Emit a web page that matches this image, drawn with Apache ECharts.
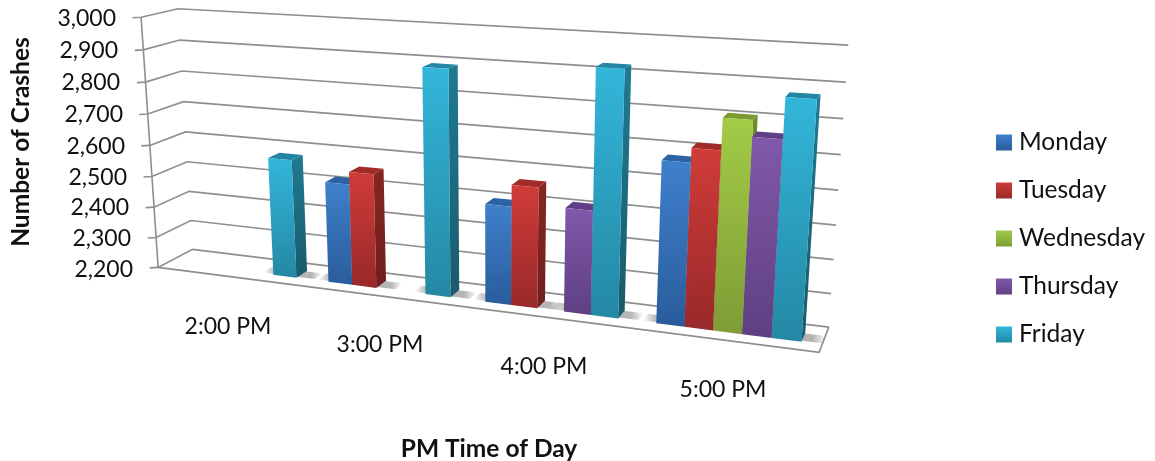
<!DOCTYPE html>
<html><head><meta charset="utf-8">
<style>html,body{margin:0;padding:0;background:#fff}#c{width:1155px;height:461px}</style>
<script src="https://cdn.jsdelivr.net/npm/echarts@6/dist/echarts.min.js"></script>
</head><body><div id="c"></div>
<script>
const categories = ['2:00 PM','3:00 PM','4:00 PM','5:00 PM'];
const seriesNames = ['Monday','Tuesday','Wednesday','Thursday','Friday'];
const monday    = [null, 2519, 2501, 2677];
const tuesday   = [null, 2558, 2566, 2718];
const wednesday = [null, null, null, 2808];
const thursday  = [null, null, 2513, 2762];
const friday    = [2578, 2892, 2924, 2876];
const seriesValues = [monday, tuesday, wednesday, thursday, friday];
const yTicks = [2200,2300,2400,2500,2600,2700,2800,2900,3000];

const GL=141,GT=17,GW=696,GH=250;
const fitPts=[[0,0,0,159,267],[1,0,0,820,353],[0,0,1,193,249],[1,0,1,829,327],[0,1,0,141,17],[0,1,1,178,9],[1,1,1,848,45],
[.775,0,.31,657,324,.3],[.975,0,.31,800,342,.3],[.185,0,.31,273,275,.3],[.225,0,.31,295,278,.3],[.315,0,.31,352,285,.3],[.355,0,.31,377,288,.3],
[0,.5,0,150,145],
[1,.875,1,846,82],[1,.75,1,843,119],[1,.625,1,841,155],[1,.25,1,833,259],[1,.125,1,832,293],
[0,.875,1,180,40],[0,.75,1,182,71],[0,.625,1,183,101.5],[0,.5,1,185,132],[0,.375,1,187,162],[0,.25,1,189,192],[0,.125,1,191,221],
[0,.875,0,143.5,50],[0,.75,0,145.5,82],[0,.625,0,147.5,114],[0,.375,0,152,177],[0,.25,0,154,207],[0,.125,0,156.5,237]];
function solve(A,b){const n=b.length;for(let i=0;i<n;i++){let m=i;for(let r=i+1;r<n;r++)if(Math.abs(A[r][i])>Math.abs(A[m][i]))m=r;[A[i],A[m]]=[A[m],A[i]];[b[i],b[m]]=[b[m],b[i]];
for(let r=i+1;r<n;r++){const f=A[r][i]/A[i][i];for(let c=i;c<n;c++)A[r][c]-=f*A[i][c];b[r]-=f*b[i];}}
const x=new Array(n);for(let i=n-1;i>=0;i--){let s=b[i];for(let c=i+1;c<n;c++)s-=A[i][c]*x[c];x[i]=s/A[i][i];}return x;}
let P=null;
for(let it=0;it<6;it++){const N=Array.from({length:11},()=>new Array(11).fill(0)),R=new Array(11).fill(0);
 const add=(row,t,k)=>{for(let i=0;i<11;i++){R[i]+=k*row[i]*t;for(let j=0;j<11;j++)N[i][j]+=k*row[i]*row[j];}};
 for(const [u,v,z,X,Y,wt] of fitPts){const x=X/1000,y=Y/1000;const w=P?P[8]*u+P[9]*v+P[10]*z+1:1,k=1/(w*w);
  const wy=wt===undefined?1:wt;
  add([u,v,z,1,0,0,0,0,-x*u,-x*v,-x*z],x,k);add([0,0,0,0,u,v,z,1,-y*u,-y*v,-y*z],y,k*wy);}
 P=solve(N,R);}
function proj(u,v,z){const w=P[8]*u+P[9]*v+P[10]*z+1;return [1000*(P[0]*u+P[1]*v+P[2]*z+P[3])/w,1000*(P[4]*u+P[5]*v+P[6]*z+P[7])/w];}

const palette=[
 {ft:'#3f80cc',fb:'#2a5c9c',side:['#2d62a5','#23497c'],top:'#2c62a4'},
 {ft:'#d03c38',fb:'#98292a',side:['#862623','#6e1f1d'],top:'#a02b28'},
 {ft:'#a2cb47',fb:'#7f9c36',side:['#6f8d2b','#5c7524'],top:'#7a9a30'},
 {ft:'#8059aa',fb:'#5f3f82',side:['#54397a','#452f64'],top:'#5f4088'},
 {ft:'#33b6da',fb:'#2488a4',side:['#1f7a93','#1a5a6c'],top:'#2386a2'}];
const Z0=.31,Z1=.66,BW=.157;
const grad=(a,b,dx)=>new echarts.graphic.LinearGradient(0,0,dx||0,1,[{offset:0,color:a},{offset:1,color:b}]);
const poly=(pts,style)=>({type:'polygon',shape:{points:pts},style,silent:true});
function barRect(api,s){const c=api.value(0),val=api.value(1);const a=api.coord([c,val]),band=api.size([1,0])[0];
 const left=a[0]+((s-2)-.5)*BW*band,right=left+BW*band;
 return {u0:(left-GL)/GW,u1:(right-GL)/GW,v:(GT+GH-a[1])/GH};}
function makeBar(s){return function(params,api){const r=barRect(api,s),p=palette[s];
 const fbl=proj(r.u0,0,Z0),fbr=proj(r.u1,0,Z0),ftl=proj(r.u0,r.v,Z0),ftr=proj(r.u1,r.v,Z0);
 const bbr=proj(r.u1,0,Z1),btr=proj(r.u1,r.v,Z1),btl=proj(r.u0,r.v,Z1);
 return {type:'group',children:[
  poly([ftl,ftr,btr,btl],{fill:p.top}),
  poly([fbr,ftr,btr,bbr],{fill:grad(p.side[0],p.side[1])}),
  poly([ftl,ftr,fbr,fbl],{fill:grad(p.ft,p.fb,.06)})]};};}
const shadowFill=new echarts.graphic.LinearGradient(0,0,1,0,[{offset:0,color:'rgba(130,130,130,0)'},{offset:.2,color:'rgba(130,130,130,.55)'},{offset:.8,color:'rgba(130,130,130,.6)'},{offset:1,color:'rgba(130,130,130,0)'}]);
function shadowItem(params,api){const s=api.value(2),r=barRect(api,s);
 return poly([proj(r.u0-.02,0,Z0+.04),proj(r.u1+.028,0,Z0+.04),proj(r.u1+.028,0,Z1-.02),proj(r.u0-.02,0,Z1-.02)],{fill:shadowFill});}
function wallItem(params,api){const val=api.value(0);const a=api.coord([0,val]);const v=(GT+GH-a[1])/GH;
 const f=proj(0,v,0),b=proj(0,v,1),e=proj(1,v,1);
 const ln={stroke:'#8e8e8e',lineWidth:1.6,fill:null};
 const kids=[{type:'polyline',shape:{points:[[f[0]-8.5,f[1]+.5],f,b,e]},style:ln,silent:true}];
 if(val===yTicks[0]){kids.push({type:'polyline',shape:{points:[f,proj(1,0,0),proj(1,0,1)]},style:ln,silent:true});
  const top=api.coord([0,yTicks[yTicks.length-1]]);const tv=(GT+GH-top[1])/GH;
  kids.push({type:'polyline',shape:{points:[f,proj(0,tv,0)]},style:ln,silent:true});}
 return {type:'group',children:kids};}

const fmt=n=>String(n).replace(/\B(?=(\d{3})+$)/g,',');
const yLabelY=[270,239,208,178,147,115,83,51,19];
const yRich={};yTicks.forEach((t,i)=>{const v=(t-yTicks[0])/(yTicks[yTicks.length-1]-yTicks[0]);
 const shift=Math.max(0,proj(0,0,0)[0]-proj(0,v,0)[0]);const linY=GT+GH-v*GH;const dy=yLabelY[i]-linY;
 yRich['y'+i]={fontFamily:'Lato',fontSize:23,lineHeight:16,color:'#111',padding:[Math.max(0,dy*2),Math.round(shift),Math.max(0,-dy*2),0]};});
const xPad=[[48,0,0,0],[66,44,0,0],[88,64,0,0],[111,54,0,0]];
const xRich={};categories.forEach((c,i)=>{xRich['x'+i]={fontFamily:'Lato',fontSize:23,color:'#111',padding:xPad[i]};});

const series=[
 {type:'custom',name:'walls',coordinateSystem:'cartesian2d',data:yTicks.map(t=>[t]),encode:{y:0},renderItem:wallItem,silent:true,z:1,clip:false,tooltip:{show:false}},
 {type:'custom',name:'shadow',coordinateSystem:'cartesian2d',encode:{x:0,y:1},z:2,silent:true,clip:false,renderItem:shadowItem,
  data:seriesValues.flatMap((a,s)=>a.map((v,i)=>v==null?null:[i,v,s]).filter(Boolean))}
];
seriesNames.forEach((n,s)=>{series.push({type:'custom',name:n,coordinateSystem:'cartesian2d',encode:{x:0,y:1},z:3+s,clip:false,
 itemStyle:{color:grad(palette[s].ft,palette[s].fb)},renderItem:makeBar(s),
 data:seriesValues[s].map((v,i)=>v==null?null:[i,v]).filter(Boolean)});});

const chart=echarts.init(document.getElementById('c'),null,{renderer:'canvas'});
chart.setOption({animation:false,backgroundColor:'#fff',
 grid:{left:GL,top:GT,width:GW,height:GH,containLabel:false,outerBoundsMode:'none'},
 legend:{data:seriesNames,orient:'vertical',left:996,top:130,padding:0,itemWidth:16,itemHeight:16,itemGap:23,icon:'rect',selectedMode:false,
  textStyle:{fontFamily:'Lato',fontSize:24.5,color:'#111',padding:[0,0,0,2]}},
 xAxis:{type:'category',data:categories,boundaryGap:true,axisLine:{show:false},axisTick:{show:false},splitLine:{show:false},
  axisLabel:{interval:0,margin:0,rich:xRich,formatter:(v)=>'{x'+categories.indexOf(v)+'|'+v+'}'},
  name:'PM Time of Day',nameLocation:'middle',nameGap:170,nameTextStyle:{fontFamily:'Lato',fontWeight:'bold',fontSize:24.5,color:'#111'}},
 yAxis:{type:'value',min:2200,max:3000,interval:100,axisLine:{show:false},axisTick:{show:false},splitLine:{show:false},
  axisLabel:{margin:8,rich:yRich,formatter:(v)=>'{y'+yTicks.indexOf(v)+'|'+fmt(v)+'}'},
  name:'Number of Crashes',nameLocation:'middle',nameGap:107,nameRotate:90,nameTextStyle:{fontFamily:'Lato',fontWeight:'bold',fontSize:24.5,color:'#111'}},
 series});
</script></body></html>
